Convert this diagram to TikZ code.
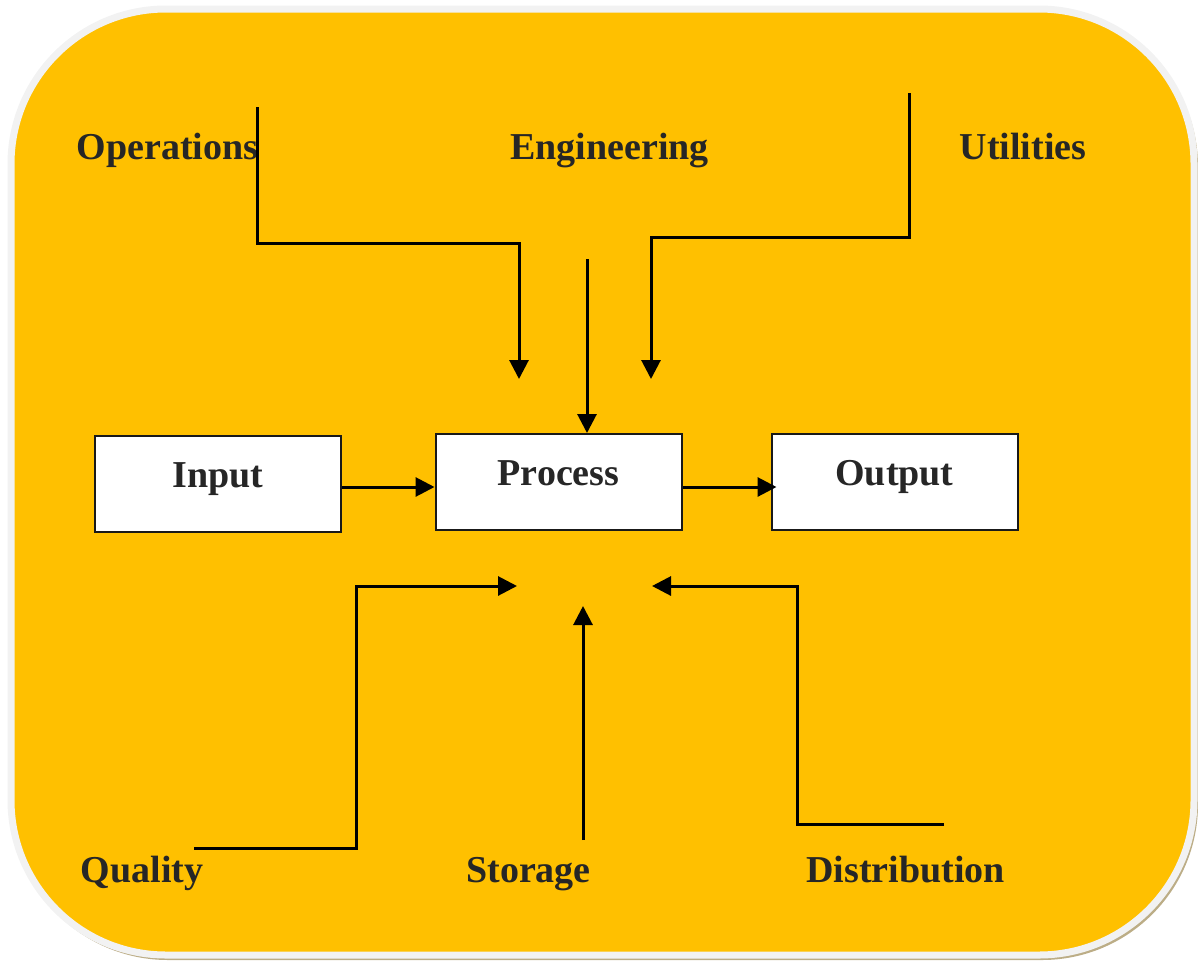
\documentclass[tikz,border=0pt]{standalone}
\usepackage{fontspec}
\setmainfont{Liberation Serif}
\usetikzlibrary{arrows.meta,calc}

\definecolor{panel}{HTML}{FFC000}
\definecolor{rim}{HTML}{F2F2F2}
\definecolor{rimshade}{HTML}{BCAD86}
\definecolor{ink}{HTML}{262626}

\tikzset{
  lbl/.style={anchor=base, inner sep=0pt, text=ink,
    font=\fontsize{38}{41}\selectfont\bfseries},
  blockbox/.style={draw=black!90, line width=2pt, fill=white,
    minimum width=246pt, minimum height=96pt, inner sep=0pt,
    text height=24pt, text depth=18pt, text=ink,
    font=\fontsize{38}{41}\selectfont\bfseries},
  link/.style={line width=3pt, draw=black},
  arr/.style={link, -{Triangle[length=19pt,width=19pt]}},
}

\begin{document}
\begin{tikzpicture}[x=1pt,y=-1pt]
  \useasboundingbox (0,0) rectangle (1198,961);

  % panel: soft shadow, pale rim and yellow face
  \fill[rimshade, rounded corners=156pt] (12,11) rectangle (1198,960);
  \draw[rim, fill=panel, line width=7pt, rounded corners=155pt]
    (11,9) rectangle (1194,955);

  % main chain
  \node[blockbox] (in)   at (218,484)   {Input};
  \node[blockbox] (proc) at (558.5,482) {Process};
  \node[blockbox] (out)  at (894.5,482) {Output};

  % surrounding functions
  \node[lbl] (ops)  at (167.5,159) {Operations};
  \node[lbl] (eng)  at (609.5,159) {Engineering};
  \node[lbl] (util) at (1023,159)  {Utilities};
  \node[lbl] (qual) at (142,882)   {Quality};
  \node[lbl] (stor) at (528.5,882) {Storage};
  \node[lbl] (dist) at (905.5,882) {Distribution};

  % connector end points
  \coordinate (opsS)  at (257,107);
  \coordinate (opsT)  at (519,379);
  \coordinate (engS)  at (587,259);
  \coordinate (utilS) at (909,93);
  \coordinate (utilT) at (651,379);
  \coordinate (qualS) at (194,848);
  \coordinate (qualT) at (517,586);
  \coordinate (storS) at (583,840);
  \coordinate (storT) at (583,606);
  \coordinate (distS) at (944,824);
  \coordinate (distT) at (652,586);

  % flow through the chain
  \draw[arr] ($(in.east)+(0,3)$) -- ($(in.east -| proc.west)+(0,3)$);
  \draw[arr] ($(proc.east)+(0,5)$) -- ($(proc.east -| out.west)+(6,5)$);

  % inputs from above
  \draw[arr] (opsS) |- (opsS |- 0,243) -| (opsT);
  \draw[arr] (engS) -- (engS |- proc.north);
  \draw[arr] (utilS) |- (utilS |- 0,237) -| (utilT);

  % inputs from below
  \draw[arr] (qualS) -| (356,586) -- (qualT);
  \draw[arr] (storS) -- (storT);
  \draw[arr] (distS) -| (797,586) -- (distT);
\end{tikzpicture}
\end{document}
